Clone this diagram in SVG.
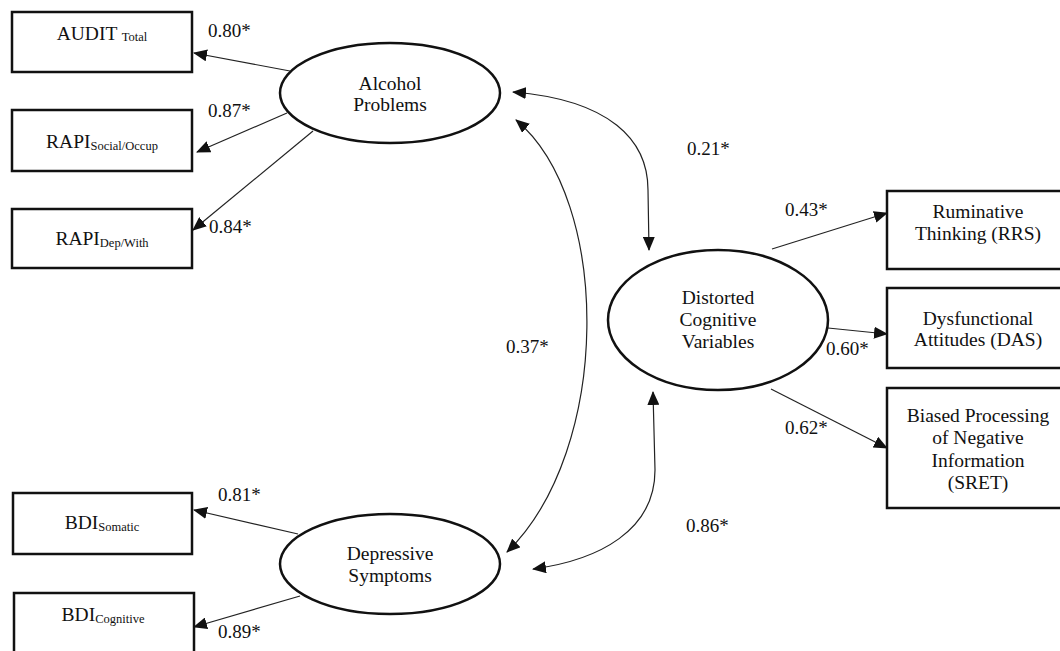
<svg xmlns="http://www.w3.org/2000/svg" width="1060" height="651" viewBox="0 0 1060 651">
  <style>
    text { font-family: "Liberation Serif", "Times New Roman", serif; fill: #111; }
    .box { fill: #fff; stroke: #111; stroke-width: 2.5; }
    .latent { fill: #fff; stroke: #111; stroke-width: 2.5; }
    .name { font-size: 19.5px; text-anchor: middle; }
    .sub { font-size: 12.5px; }
    .coef { font-size: 19px; }
    .edge { fill: none; stroke: #222; stroke-width: 1.2; }
    .one { marker-end: url(#head); }
    .two { marker-start: url(#head); marker-end: url(#head); }
  </style>
  <defs>
    <marker id="head" viewBox="0 0 14 12" refX="13" refY="6" markerWidth="14" markerHeight="12" markerUnits="userSpaceOnUse" orient="auto-start-reverse">
      <path d="M0,0 L14,6 L0,12 Z" fill="#111"/>
    </marker>
  </defs>

  <rect width="1060" height="651" fill="#fff"/>

  <!-- connectors: loadings and correlations -->
  <g id="connectors">
    <path class="edge one" d="M290,71 L194,53"/>
    <path class="edge one" d="M287,113 L197,152"/>
    <path class="edge one" d="M313,131 L193,230"/>
    <path class="edge one" d="M298,534 L194,510"/>
    <path class="edge one" d="M300,596 L194,627"/>
    <path class="edge one" d="M772,249 L887,213"/>
    <path class="edge one" d="M828,328 L887,334"/>
    <path class="edge one" d="M771,389 L887,448"/>
    <path class="edge two" d="M513,92 C610,100 648,140 648,190 L649,250"/>
    <path class="edge two" d="M516,120 C612,200 612,450 507,552"/>
    <path class="edge two" d="M653,392 L655,470 C655,530 600,560 533,569"/>
  </g>

  <!-- coefficients -->
  <g id="coefficients" class="coef">
    <text class="coef" x="208" y="37">0.80*</text>
    <text class="coef" x="208" y="117">0.87*</text>
    <text class="coef" x="209" y="233">0.84*</text>
    <text class="coef" x="218" y="501">0.81*</text>
    <text class="coef" x="218" y="638">0.89*</text>
    <text class="coef" x="785" y="216">0.43*</text>
    <text class="coef" x="826" y="355">0.60*</text>
    <text class="coef" x="785" y="434">0.62*</text>
    <text class="coef" x="687" y="155">0.21*</text>
    <text class="coef" x="506" y="353">0.37*</text>
    <text class="coef" x="686" y="532">0.86*</text>
  </g>

  <!-- observed indicators -->
  <g id="audit-total">
    <rect class="box" x="12" y="12" width="180" height="60"/>
    <text class="name" x="102" y="40">AUDIT <tspan class="sub" dy="1">Total</tspan></text>
  </g>
  <g id="rapi-social">
    <rect class="box" x="12" y="110" width="180" height="61"/>
    <text class="name" x="102" y="148">RAPI<tspan class="sub" dy="2">Social/Occup</tspan></text>
  </g>
  <g id="rapi-dep">
    <rect class="box" x="12" y="209" width="180" height="59"/>
    <text class="name" x="102" y="245">RAPI<tspan class="sub" dy="2">Dep/With</tspan></text>
  </g>
  <g id="bdi-somatic">
    <rect class="box" x="13" y="493" width="179" height="61"/>
    <text class="name" x="102" y="529">BDI<tspan class="sub" dy="2">Somatic</tspan></text>
  </g>
  <g id="bdi-cognitive">
    <rect class="box" x="14" y="593" width="180" height="62"/>
    <text class="name" x="103" y="621">BDI<tspan class="sub" dy="2">Cognitive</tspan></text>
  </g>
  <g id="rrs">
    <rect class="box" x="887" y="191" width="182" height="78"/>
    <text class="name" x="978" y="218">Ruminative</text>
    <text class="name" x="978" y="240">Thinking (RRS)</text>
  </g>
  <g id="das">
    <rect class="box" x="887" y="288" width="182" height="80"/>
    <text class="name" x="978" y="325">Dysfunctional</text>
    <text class="name" x="978" y="346">Attitudes (DAS)</text>
  </g>
  <g id="sret">
    <rect class="box" x="887" y="388" width="182" height="120"/>
    <text class="name" x="978" y="422">Biased Processing</text>
    <text class="name" x="978" y="444">of Negative</text>
    <text class="name" x="978" y="467">Information</text>
    <text class="name" x="978" y="489">(SRET)</text>
  </g>

  <!-- latent factors -->
  <g id="alcohol-problems">
    <ellipse class="latent" cx="390" cy="93" rx="110" ry="50"/>
    <text class="name" x="390" y="90">Alcohol</text>
    <text class="name" x="390" y="111">Problems</text>
  </g>
  <g id="distorted-cognitive">
    <ellipse class="latent" cx="718" cy="320" rx="110" ry="70"/>
    <text class="name" x="718" y="304">Distorted</text>
    <text class="name" x="718" y="326">Cognitive</text>
    <text class="name" x="718" y="348">Variables</text>
  </g>
  <g id="depressive-symptoms">
    <ellipse class="latent" cx="390" cy="564" rx="110" ry="50"/>
    <text class="name" x="390" y="560">Depressive</text>
    <text class="name" x="390" y="582">Symptoms</text>
  </g>
</svg>
